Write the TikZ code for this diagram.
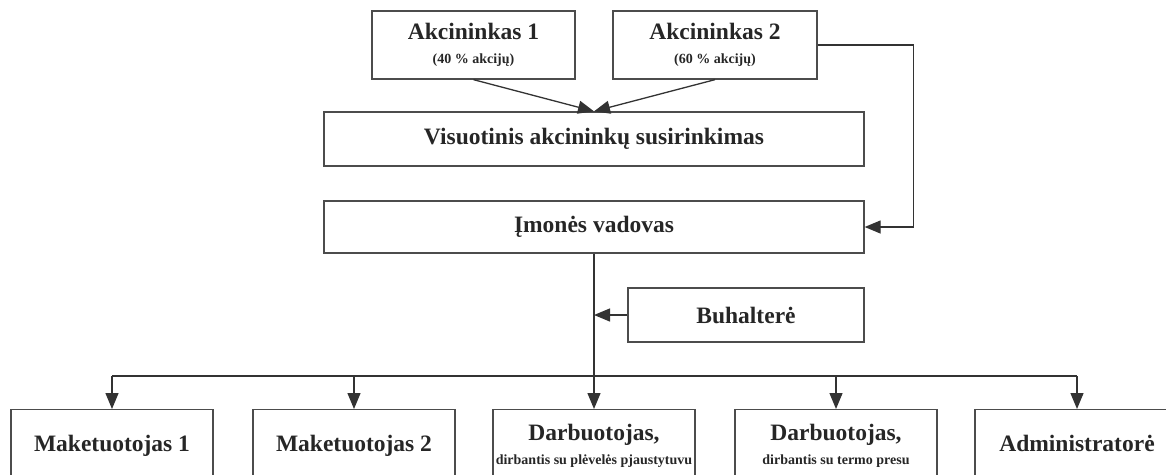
\documentclass[tikz,border=0pt]{standalone}
\usepackage{fontspec}
\setmainfont{Liberation Serif}
\usetikzlibrary{arrows.meta,positioning}

\tikzset{
  box/.style={draw=black!70, line width=1.3pt, rectangle, inner sep=0pt, align=center,
    text=black!85, font=\bfseries\fontsize{23.5}{24}\selectfont},
  lowbox/.style={box, anchor=north, minimum width=202pt, inner ysep=26pt,
    text height=16pt, text depth=60pt},
  arr/.style={-{Triangle[length=16pt,width=13pt]}, line width=1.3pt, draw=black!80},
  bus/.style={line width=1.3pt, draw=black!80}
}
\newcommand{\smalltxt}[1]{{\fontsize{14}{16}\selectfont #1}}

\begin{document}
\begin{tikzpicture}[x=1pt, y=-1pt]
	\useasboundingbox (0,0) rectangle (1166,474);
	\clip (0,0) rectangle (1166,474);

	% owners and management
	\node[box, minimum width=203pt, minimum height=68pt] (akc1) at (473.5, 45) {Akcininkas 1\\ \smalltxt{(40 \% akcijų)}};
	\node[box, minimum width=204pt, minimum height=68pt] (akc2) at (715, 45) {Akcininkas 2\\ \smalltxt{(60 \% akcijų)}};
	\node[box, minimum width=540pt, minimum height=54pt] (vis) at (594, 139) {Visuotinis akcininkų susirinkimas};
	\node[box, minimum width=540pt, minimum height=52pt] (vad) at (594, 227) {Įmonės vadovas};
	\node[box, minimum width=236pt, minimum height=54pt] (buh) at (746, 315) {Buhalterė};

	% staff
	\node[lowbox] (mak1) at (112, 409) {Maketuotojas 1};
	\node[lowbox] (mak2) at (354, 409) {Maketuotojas 2};
	\node[lowbox, inner ysep=39pt] (darb1) at (594, 409) {Darbuotojas,\\ \smalltxt{dirbantis su plėvelės pjaustytuvu}};
	\node[lowbox, inner ysep=39pt] (darb2) at (836, 409) {Darbuotojas,\\ \smalltxt{dirbantis su termo presu}};
	\node[lowbox, minimum width=204pt] (adm) at (1077, 409) {Administratorė};

	\coordinate (bus) at (594, 376);

	\draw [arr] (akc1.south) to (vis.north);
	\draw [arr] (akc2.south) to (vis.north);
	\draw [arr] (akc2.east) -- ++(96, 0) |- (vad.east);
	\draw [arr] (vad.south) to (darb1.north);
	\draw [arr] (buh.west) to (buh.west -| vad.south);
	\draw [bus] (mak1.north |- bus) -- (adm.north |- bus);
	\foreach \n in {mak1, mak2, darb2, adm}
		\draw [arr] (\n.north |- bus) to (\n.north);
\end{tikzpicture}
\end{document}
